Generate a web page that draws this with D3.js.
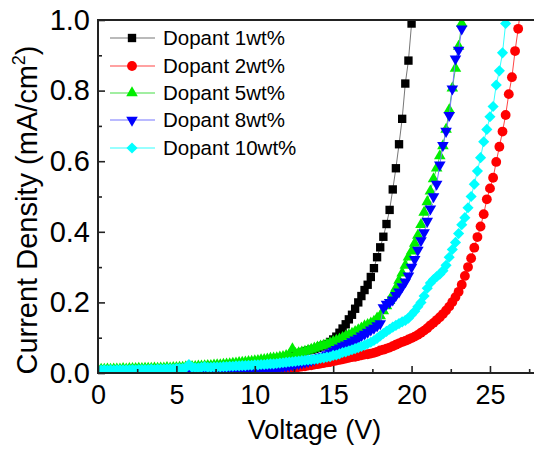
<!DOCTYPE html>
<html><head><meta charset="utf-8">
<script src="https://cdn.jsdelivr.net/npm/d3@7"></script>
<style>
body{margin:0;background:#fff}
svg{display:block}
text{font-family:"Liberation Sans",Arial,Helvetica,sans-serif;fill:#000}
</style>
</head><body>
<svg id="chart" width="534" height="450"></svg>
<script>
// ---------- data ----------
const volts = [
  0,0.2,0.4,0.6,0.8,1,1.2,1.4,1.6,1.8,
  2,2.2,2.4,2.6,2.8,3,3.2,3.4,3.6,3.8,
  4,4.2,4.4,4.6,4.8,5,5.2,5.4,5.6,5.8,
  6,6.2,6.4,6.6,6.8,7,7.2,7.4,7.6,7.8,
  8,8.2,8.4,8.6,8.8,9,9.2,9.4,9.6,9.8,
  10,10.2,10.4,10.6,10.8,11,11.2,11.4,11.6,11.8,
  12,12.2,12.4,12.6,12.8,13,13.2,13.4,13.6,13.8,
  14,14.2,14.4,14.6,14.8,15,15.2,15.4,15.6,15.8,
  16,16.2,16.4,16.6,16.8,17,17.2,17.4,17.6,17.8,
  18,18.2,18.4,18.6,18.8,19,19.2,19.4,19.6,19.8,
  20,20.2,20.4,20.6,20.8,21,21.2,21.4,21.6,21.8,
  22,22.2,22.4,22.6,22.8,23,23.2,23.4,23.6,23.8,
  24,24.2,24.4,24.6,24.8,25,25.2,25.4,25.6,25.8,
  26,26.2,26.4,26.6,26.8,27
];
const seriesNames = ["Dopant 1wt%","Dopant 2wt%","Dopant 5wt%","Dopant 8wt%","Dopant 10wt%"];
const dopant1 = [
  .004,.004,.004,.005,.005,.005,.005,.006,.006,.006,
  .006,.007,.007,.007,.007,.008,.008,.008,.008,.009,
  .009,.009,.009,.010,.010,.010,.011,.011,.011,.012,
  .012,.012,.013,.013,.014,.014,.015,.015,.016,.016,
  .017,.018,.018,.019,.020,.021,.022,.023,.024,.025,
  .026,.027,.028,.029,.031,.032,.034,.035,.037,.039,
  .042,.045,.048,.052,.055,.058,.062,.064,.066,.068,
  .071,.075,.078,.082,.088,.095,.103,.114,.126,.138,
  .152,.165,.182,.200,.218,.235,.250,.272,.297,.328,
  .356,.386,.422,.462,.520,.580,.648,.720,.820,.885,
  .990
];
const dopant2 = [
  .002,.002,.002,.002,.002,.002,.002,.002,.002,.002,
  .002,.002,.002,.002,.002,.002,.002,.002,.002,.002,
  .002,.002,.002,.002,.002,.003,.003,.003,.003,.003,
  .003,.003,.003,.003,.003,.003,.003,.003,.003,.003,
  .004,.004,.004,.004,.004,.004,.004,.004,.004,.004,
  .005,.006,.006,.007,.007,.008,.009,.009,.010,.011,
  .012,.013,.014,.015,.017,.018,.019,.021,.022,.024,
  .025,.027,.028,.030,.031,.033,.035,.037,.039,.041,
  .043,.045,.046,.048,.050,.052,.053,.055,.057,.060,
  .064,.066,.069,.072,.076,.080,.084,.088,.091,.095,
  .099,.103,.108,.114,.120,.127,.135,.142,.150,.158,
  .167,.177,.188,.201,.215,.230,.250,.275,.300,.325,
  .355,.385,.415,.450,.492,.523,.553,.598,.641,.684,
  .731,.790,.838,.912,.975,1.05
];
const dopant5 = [
  .010,.010,.010,.011,.010,.011,.011,.011,.012,.011,
  .012,.012,.012,.013,.012,.013,.013,.013,.014,.013,
  .014,.014,.015,.014,.015,.015,.016,.016,.017,.017,
  .018,.018,.019,.019,.020,.021,.021,.022,.023,.023,
  .024,.025,.026,.027,.028,.029,.030,.031,.032,.033,
  .034,.035,.037,.038,.039,.041,.042,.043,.045,.046,
  .049,.051,.068,.055,.057,.059,.061,.064,.067,.070,
  .073,.076,.078,.081,.085,.089,.092,.096,.100,.104,
  .108,.112,.117,.122,.127,.133,.137,.141,.146,.155,
  .162,.176,.190,.205,.222,.240,.262,.283,.305,.328,
  .345,.367,.390,.420,.455,.485,.515,.550,.580,.615,
  .643,.690,.745,.807,.863,.925,.990
];
const dopant8 = [
  .001,.001,.001,.001,.001,.001,.001,.001,.001,.001,
  .001,.001,.001,.001,.001,.001,.001,.001,.001,.001,
  .001,.001,.001,.001,.001,.001,.001,.001,.001,.001,
  .001,.001,.001,.001,.002,.002,.002,.002,.002,.002,
  .002,.002,.003,.003,.003,.004,.004,.004,.005,.005,
  .006,.007,.008,.009,.010,.011,.013,.014,.015,.017,
  .019,.021,.023,.025,.027,.029,.031,.033,.036,.039,
  .042,.045,.048,.052,.057,.062,.067,.071,.076,.080,
  .084,.089,.094,.099,.105,.110,.116,.122,.127,.134,
  .140,.185,.195,.200,.207,.220,.230,.245,.258,.275,
  .300,.322,.348,.375,.398,.430,.465,.500,.535,.590,
  .645,.685,.730,.805,.890,.915,.975
];
const dopant10 = [
  .008,.008,.009,.008,.009,.008,.009,.009,.009,.009,
  .009,.010,.009,.010,.010,.010,.010,.011,.010,.011,
  .011,.011,.012,.012,.012,.013,.013,.013,.015,.024,
  .016,.015,.015,.016,.018,.016,.016,.017,.017,.017,
  .018,.018,.019,.019,.020,.020,.021,.021,.022,.022,
  .023,.023,.024,.024,.025,.026,.026,.027,.028,.029,
  .030,.031,.032,.033,.034,.035,.036,.037,.038,.039,
  .040,.042,.043,.045,.046,.050,.051,.054,.058,.060,
  .063,.066,.069,.072,.075,.079,.083,.087,.092,.098,
  .105,.112,.118,.124,.130,.135,.140,.145,.149,.155,
  .165,.175,.188,.200,.218,.240,.255,.265,.273,.280,
  .290,.305,.328,.350,.370,.395,.420,.440,.468,.500,
  .535,.572,.610,.655,.690,.726,.755,.816,.856,.907,
  .990
];
const xTicks = [0,5,10,15,20,25];
const xMinorTicks = [2.5,7.5,12.5,17.5,22.5,27.5];
const yTicks = [0,0.2,0.4,0.6,0.8,1.0];
const yMinorTicks = [0.1,0.3,0.5,0.7,0.9];
const markerColors = ["#000000","#ff0000","#00ee00","#0000ff","#00ffff"];
const lineColors = ["#777777","#ff4444","#44dd44","#7777ff","#33ffff"];
const markerShapes = ["square","circle","triangle","triangleDown","diamond"];

// ---------- chart ----------
const svg = d3.select("#chart");
svg.append("rect").attr("width",534).attr("height",450).attr("fill","#fff");

const X0 = 98, X1 = 537, Y0 = 373, Y1 = 20;
const x = d3.scaleLinear().domain([0,28]).range([X0,X1]);
const y = d3.scaleLinear().domain([0,1]).range([Y0,Y1]);

const allSeries = [dopant1,dopant2,dopant5,dopant8,dopant10].map((vals,i)=>({
  name: seriesNames[i],
  color: markerColors[i],
  lineColor: lineColors[i],
  shape: markerShapes[i],
  pts: vals.map((v,k)=>({v: volts[k], j: v}))
}));

function symbolPath(shape){
  if (shape==="square") return d3.symbol(d3.symbolSquare, 70)();
  if (shape==="circle") return d3.symbol(d3.symbolCircle, 76)();
  if (shape==="triangle" || shape==="triangleDown") return d3.symbol(d3.symbolTriangle, 58)();
  return d3.symbol(d3.symbolSquare, 62)();
}
function symbolRot(shape){
  if (shape==="triangleDown") return 180;
  if (shape==="diamond") return 45;
  return 0;
}

svg.append("clipPath").attr("id","plotclip")
  .append("rect").attr("x",X0).attr("y",Y1).attr("width",X1-X0).attr("height",Y0-Y1);

const plot = svg.append("g").attr("clip-path","url(#plotclip)");
const line = d3.line().x(d=>x(d.v)).y(d=>y(d.j));

allSeries.forEach(s=>{
  const g = plot.append("g");
  g.append("path").datum(s.pts).attr("d",line)
    .attr("fill","none").attr("stroke",s.lineColor).attr("stroke-width",1);
  g.selectAll("path.m").data(s.pts).enter().append("path").attr("class","m")
    .attr("d",symbolPath(s.shape))
    .attr("transform",d=>`translate(${x(d.v)},${y(d.j)}) rotate(${symbolRot(s.shape)})`)
    .attr("fill",s.color);
});

// axes
const axisColor = "#222";
const xAxis = d3.axisBottom(x).tickValues(xTicks).tickSize(-7).tickPadding(12).tickFormat(d3.format("d"));
const xAxisMinor = d3.axisBottom(x).tickValues(xMinorTicks).tickSize(-4).tickFormat("");
const yAxis = d3.axisLeft(y).tickValues(yTicks).tickSize(-7).tickPadding(8).tickFormat(d3.format(".1f"));
const yAxisMinor = d3.axisLeft(y).tickValues(yMinorTicks).tickSize(-4).tickFormat("");

function styleAxis(fs){
  return g=>{
    g.select(".domain").remove();
    g.selectAll(".tick line").attr("stroke",axisColor).attr("stroke-width",1.6);
    g.selectAll(".tick text").attr("font-size",fs).attr("font-family",null).attr("fill","#000");
  };
}
svg.append("g").attr("transform",`translate(0,${Y0})`).call(xAxis).call(styleAxis(27));
svg.append("g").attr("transform",`translate(0,${Y0})`).call(xAxisMinor).call(styleAxis(27));
svg.append("g").attr("transform",`translate(${X0},0)`).call(yAxis).call(styleAxis(29));
svg.append("g").attr("transform",`translate(${X0},0)`).call(yAxisMinor).call(styleAxis(29));

// frame
svg.append("rect").attr("x",X0).attr("y",Y1).attr("width",X1-X0).attr("height",Y0-Y1)
  .attr("fill","none").attr("stroke",axisColor).attr("stroke-width",2);

// axis titles
svg.append("text").attr("x",(X0+X1)/2 - 3).attr("y",439).attr("text-anchor","middle")
  .attr("font-size",27).text("Voltage (V)");
const yt = svg.append("text").attr("transform","translate(37,210) rotate(-90)")
  .attr("text-anchor","middle").attr("font-size",29);
yt.append("tspan").text("Current Density (mA/cm");
yt.append("tspan").attr("font-size",18).attr("dy",-12).text("2");
yt.append("tspan").attr("dy",12).text(")");

// legend
const legY = [38,66,93,120,148];
const leg = svg.append("g");
allSeries.forEach((s,i)=>{
  const row = leg.append("g").attr("transform",`translate(0,${legY[i]})`);
  row.append("line").attr("x1",110).attr("x2",155).attr("y1",0).attr("y2",0)
    .attr("stroke",s.lineColor).attr("stroke-width",1.2);
  row.append("path").attr("d",symbolPath(s.shape))
    .attr("transform",`translate(132,0) rotate(${symbolRot(s.shape)})`).attr("fill",s.color);
  row.append("text").attr("x",163).attr("y",0).attr("dy","0.36em")
    .attr("font-size",20.5).text(s.name);
});
</script>
</body></html>
